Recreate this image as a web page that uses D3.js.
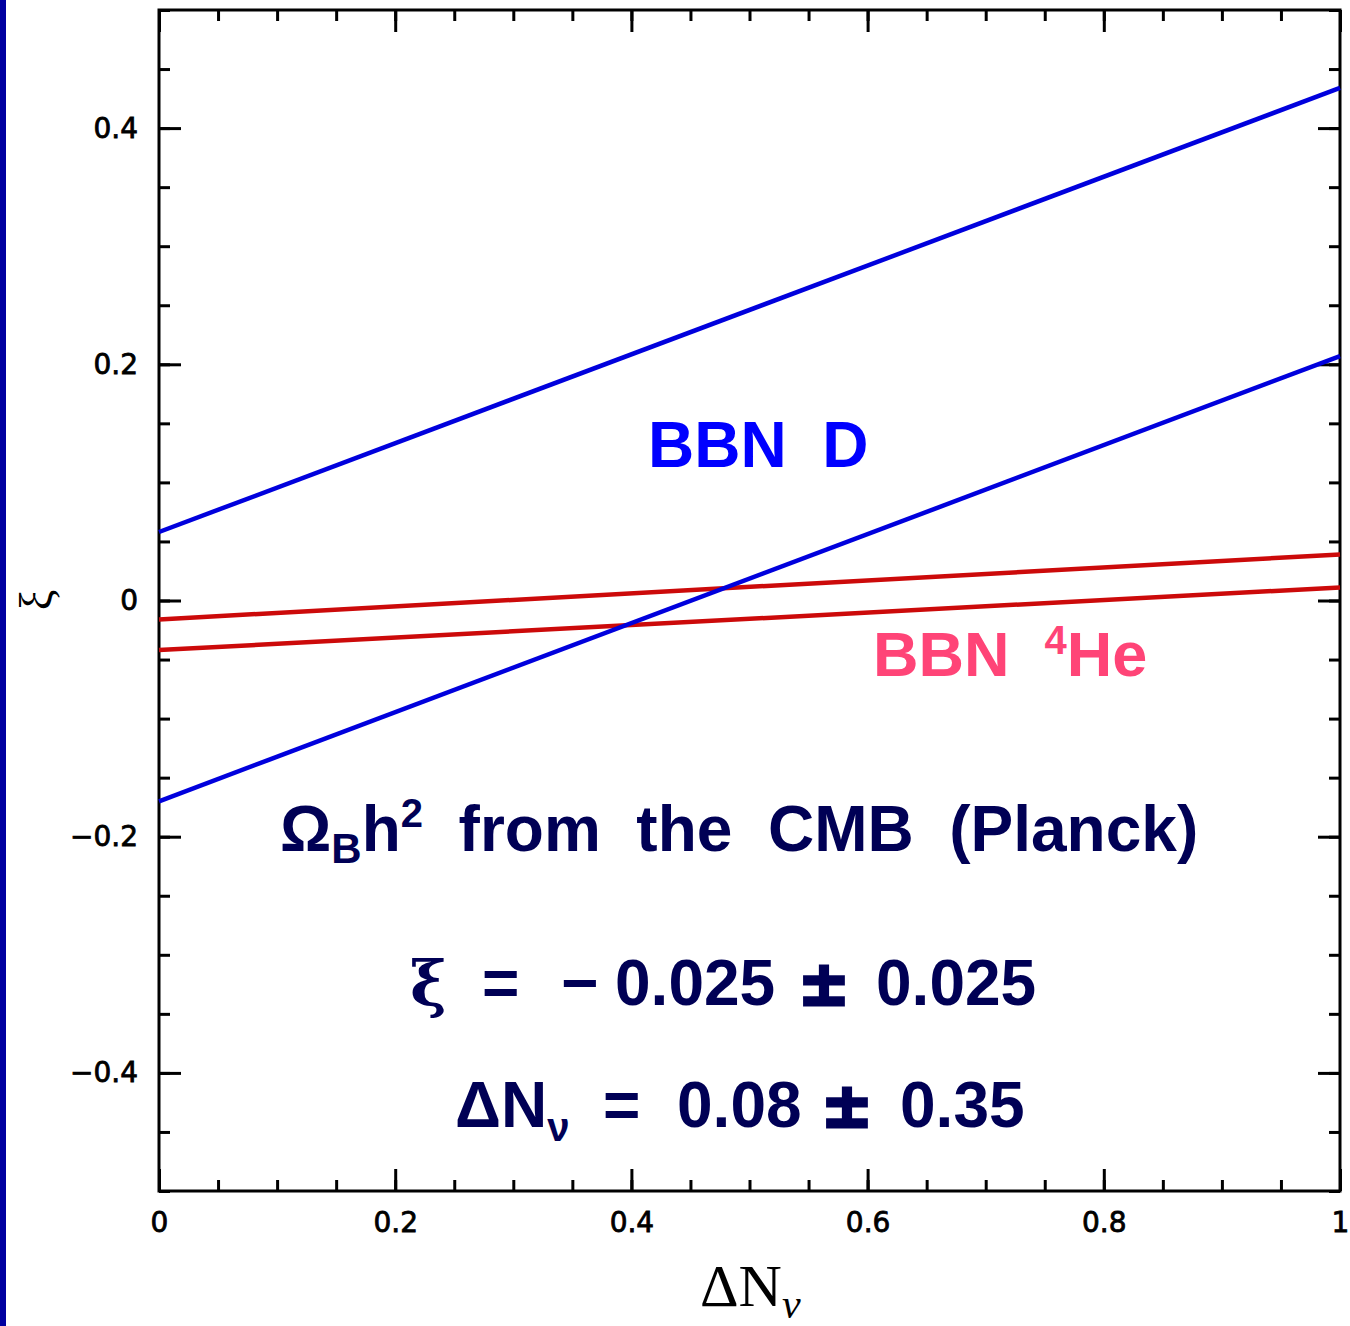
<!DOCTYPE html>
<html>
<head>
<meta charset="utf-8">
<script src="https://cdn.jsdelivr.net/npm/d3@7"></script>
<style>
  html, body { margin: 0; padding: 0; background: #fff; }
  svg { display: block; }
  .pre { white-space: pre; }
</style>
</head>
<body>
<div id="chart"></div>
<script>
// Data: xi vs Delta N_nu bands
const deltaN = [0, 1];
const xiDUpper = [0.058, 0.434];
const xiDLower = [-0.170, 0.207];
const xiHeUpper = [-0.016, 0.039];
const xiHeLower = [-0.042, 0.011];

const xMajorTicks = [0, 0.2, 0.4, 0.6, 0.8, 1];
const xTickLabels = ["0", "0.2", "0.4", "0.6", "0.8", "1"];
const yMajorTicks = [-0.4, -0.2, 0, 0.2, 0.4];
const yTickLabels = ["\u22120.4", "\u22120.2", "0", "0.2", "0.4"];
const minorStep = 0.05;

const width = 1350, height = 1326;
const margin = { top: 10, right: 10, bottom: 135, left: 159 };
const innerW = width - margin.left - margin.right;
const innerH = height - margin.top - margin.bottom;

const svg = d3.select("#chart").append("svg")
  .attr("width", width)
  .attr("height", height);

// left blue strip of the slide
svg.append("rect").attr("x", 0).attr("y", 0).attr("width", 6).attr("height", height).attr("fill", "#0000a0");

const g = svg.append("g").attr("transform", `translate(${margin.left},${margin.top})`);

const x = d3.scaleLinear().domain([0, 1]).range([0, innerW]);
const y = d3.scaleLinear().domain([-0.5, 0.5]).range([innerH, 0]);

const xMinor = d3.range(0, 1 + 1e-9, minorStep);
const yMinor = d3.range(-0.5, 0.5 + 1e-9, minorStep);

function styleAxis(sel) {
  sel.select(".domain").remove();
  sel.selectAll(".tick line").attr("stroke", "#000").attr("stroke-width", 3);
  sel.selectAll(".tick text")
    .attr("font-family", "DejaVu Sans, sans-serif")
    .attr("font-size", 28)
    .attr("fill", "#000")
    .attr("stroke", "#000")
    .attr("stroke-width", 0.8);
}

// minor ticks, all four sides
g.append("g").attr("transform", `translate(0,${innerH})`)
  .call(d3.axisBottom(x).tickValues(xMinor).tickSize(-11).tickFormat(""))
  .call(styleAxis);
g.append("g")
  .call(d3.axisTop(x).tickValues(xMinor).tickSize(-11).tickFormat(""))
  .call(styleAxis);
g.append("g")
  .call(d3.axisLeft(y).tickValues(yMinor).tickSize(-11).tickFormat(""))
  .call(styleAxis);
g.append("g").attr("transform", `translate(${innerW},0)`)
  .call(d3.axisRight(y).tickValues(yMinor).tickSize(-11).tickFormat(""))
  .call(styleAxis);

// major ticks
g.append("g").attr("transform", `translate(0,${innerH})`)
  .call(d3.axisBottom(x).tickValues(xMajorTicks).tickSize(-22).tickPadding(21)
    .tickFormat((d, i) => xTickLabels[i]))
  .call(styleAxis);
g.append("g")
  .call(d3.axisTop(x).tickValues(xMajorTicks).tickSize(-22).tickFormat(""))
  .call(styleAxis);
g.append("g")
  .call(d3.axisLeft(y).tickValues(yMajorTicks).tickSize(-22).tickPadding(21)
    .tickFormat((d, i) => yTickLabels[i]))
  .call(styleAxis);
g.append("g").attr("transform", `translate(${innerW},0)`)
  .call(d3.axisRight(y).tickValues(yMajorTicks).tickSize(-22).tickFormat(""))
  .call(styleAxis);

// frame
g.append("rect")
  .attr("x", 0).attr("y", 0).attr("width", innerW).attr("height", innerH)
  .attr("fill", "none").attr("stroke", "#000").attr("stroke-width", 3);

// bands
const line = d3.line().x(d => x(d[0])).y(d => y(d[1]));
const series = [
  { vals: xiHeUpper, color: "#cc0a0a" },
  { vals: xiHeLower, color: "#cc0a0a" },
  { vals: xiDUpper, color: "#0000dd" },
  { vals: xiDLower, color: "#0000dd" }
];
g.selectAll("path.band").data(series).enter().append("path")
  .attr("class", "band")
  .attr("d", s => line(deltaN.map((n, i) => [n, s.vals[i]])))
  .attr("fill", "none")
  .attr("stroke", s => s.color)
  .attr("stroke-width", 4.5);

// axis titles
svg.append("text")
  .attr("transform", "translate(52,600) rotate(-90)")
  .attr("text-anchor", "middle")
  .attr("font-family", "Liberation Serif, serif")
  .attr("font-size", 46)
  .text("\u03be");

const xt = svg.append("text")
  .attr("x", 700).attr("y", 1306)
  .attr("font-family", "Liberation Serif, serif")
  .attr("font-size", 60)
  .attr("fill", "#000");
xt.append("tspan").text("\u0394N");
xt.append("tspan").attr("font-style", "italic").attr("font-size", 42).attr("dy", 12).text("\u03bd");

// annotations
const bold = "Liberation Sans, Arial, sans-serif";
svg.append("text").attr("class", "pre")
  .attr("x", 648).attr("y", 467)
  .attr("font-family", bold).attr("font-weight", "bold").attr("font-size", 64)
  .attr("fill", "#0000ff")
  .text("BBN  D");

const he = svg.append("text").attr("class", "pre")
  .attr("x", 873).attr("y", 676)
  .attr("font-family", bold).attr("font-weight", "bold").attr("font-size", 63)
  .attr("fill", "#ff4477");
he.append("tspan").text("BBN  ");
he.append("tspan").attr("font-size", 40).attr("dy", -22).text("4");
he.append("tspan").attr("dy", 22).text("He");

const navy = "#000055";
const cmb = svg.append("text").attr("class", "pre")
  .attr("x", 280).attr("y", 851)
  .attr("font-family", bold).attr("font-weight", "bold").attr("font-size", 64)
  .attr("fill", navy);
cmb.append("tspan").text("\u03a9");
cmb.append("tspan").attr("font-size", 42).attr("dy", 12).text("B");
cmb.append("tspan").attr("dy", -12).text("h");
cmb.append("tspan").attr("font-size", 40).attr("dy", -24).text("2");
cmb.append("tspan").attr("dy", 24).text("  from  the  CMB  (Planck)");

const pm = "DejaVu Sans, sans-serif";
const xiLine = svg.append("text")
  .attr("y", 1005)
  .attr("font-family", bold).attr("font-weight", "bold").attr("font-size", 64)
  .attr("fill", navy);
xiLine.append("tspan").attr("x", 410).attr("font-family", "DejaVu Serif, serif").attr("font-size", 62).text("\u03be");
xiLine.append("tspan").attr("x", 482).text("=");
xiLine.append("tspan").attr("x", 561).text("\u2212");
xiLine.append("tspan").attr("x", 615).text("0.025");
xiLine.append("tspan").attr("x", 798).attr("font-family", pm).attr("font-size", 62)
  .attr("stroke", navy).attr("stroke-width", 3).text("\u00b1");
xiLine.append("tspan").attr("x", 876).text("0.025");

const dnLine = svg.append("text")
  .attr("y", 1127)
  .attr("font-family", bold).attr("font-weight", "bold").attr("font-size", 64)
  .attr("fill", navy);
dnLine.append("tspan").attr("x", 455).text("\u0394N");
dnLine.append("tspan").attr("font-size", 40).attr("dy", 14).text("\u03bd");
dnLine.append("tspan").attr("x", 603).attr("dy", -14).text("=");
dnLine.append("tspan").attr("x", 677).text("0.08");
dnLine.append("tspan").attr("x", 821).attr("font-family", pm).attr("font-size", 62)
  .attr("stroke", navy).attr("stroke-width", 3).text("\u00b1");
dnLine.append("tspan").attr("x", 900).text("0.35");
</script>
</body>
</html>
